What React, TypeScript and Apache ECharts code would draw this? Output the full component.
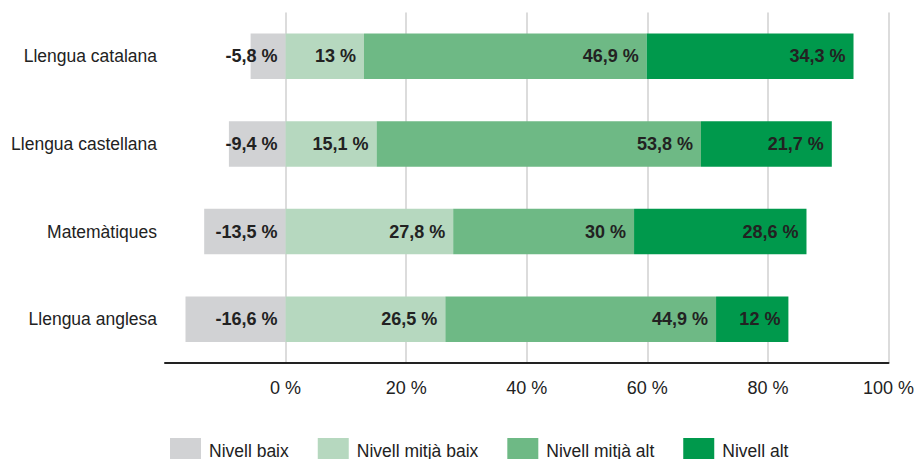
import React, { useEffect, useRef } from "react";
import * as echarts from "echarts";

const categories = ["Llengua catalana", "Llengua castellana", "Matemàtiques", "Llengua anglesa"];
const seriesNames = ["Nivell baix", "Nivell mitjà baix", "Nivell mitjà alt", "Nivell alt"];
const nivellBaix = [-5.8, -9.4, -13.5, -16.6];
const nivellMitjaBaix = [13, 15.1, 27.8, 26.5];
const nivellMitjaAlt = [46.9, 53.8, 30, 44.9];
const nivellAlt = [34.3, 21.7, 28.6, 12];
const xTicks = [-20, 0, 20, 40, 60, 80, 100];

const colors = ["#d1d2d4", "#b6d8bf", "#6eb985", "#00994c"];
const FONT = "'Liberation Sans', Arial, Helvetica, sans-serif";

export default function App() {
  const ref = useRef<HTMLDivElement>(null);
  useEffect(() => {
    if (!ref.current) return;
    const chart = echarts.init(ref.current, undefined, { renderer: "svg" });
    const data = [nivellBaix, nivellMitjaBaix, nivellMitjaAlt, nivellAlt];
    const fmt = (v: number) => String(v).replace(".", ",") + " %";
    chart.setOption({
      animation: false,
      textStyle: { fontFamily: FONT },
      grid: { left: 165, right: 26, top: 12.5, bottom: 96, containLabel: false },
      legend: {
        left: 165,
        top: 433,
        itemWidth: 31,
        itemHeight: 25,
        itemGap: 29,
        icon: "rect",
        data: seriesNames,
        textStyle: { fontSize: 17.5, color: "#222", fontFamily: FONT, padding: [0, 0, 0, 3] },
      },
      xAxis: {
        type: "value",
        min: xTicks[0],
        max: xTicks[xTicks.length - 1],
        interval: 20,
        axisLine: { show: true, lineStyle: { color: "#222", width: 2 } },
        axisTick: { show: false },
        axisLabel: {
          fontSize: 18,
          color: "#222",
          margin: 16,
          formatter: (v: number) => (v < 0 ? "" : `${v} %`),
        },
        splitLine: { show: true, showMinLine: false, lineStyle: { color: "#d0d0d0", width: 1.5 } },
      },
      yAxis: {
        type: "category",
        data: categories,
        inverse: true,
        axisLine: { show: false },
        axisTick: { show: false },
        axisLabel: { fontSize: 17.5, color: "#222", margin: 8 },
      },
      series: seriesNames.map((name, i) => ({
        name,
        type: "bar",
        stack: "total",
        barWidth: "52%",
        data: data[i],
        itemStyle: { color: colors[i] },
        label: {
          show: true,
          position: "insideRight",
          distance: 8,
          fontSize: 18,
          fontWeight: "bold",
          color: "#222",
          formatter: (p: any) => fmt(p.value),
        },
      })),
    });
    return () => chart.dispose();
  }, []);
  return (
    <div
      ref={ref}
      style={{ position: "absolute", left: 0, top: 0, width: 917, height: 459, background: "#fff" }}
    />
  );
}
